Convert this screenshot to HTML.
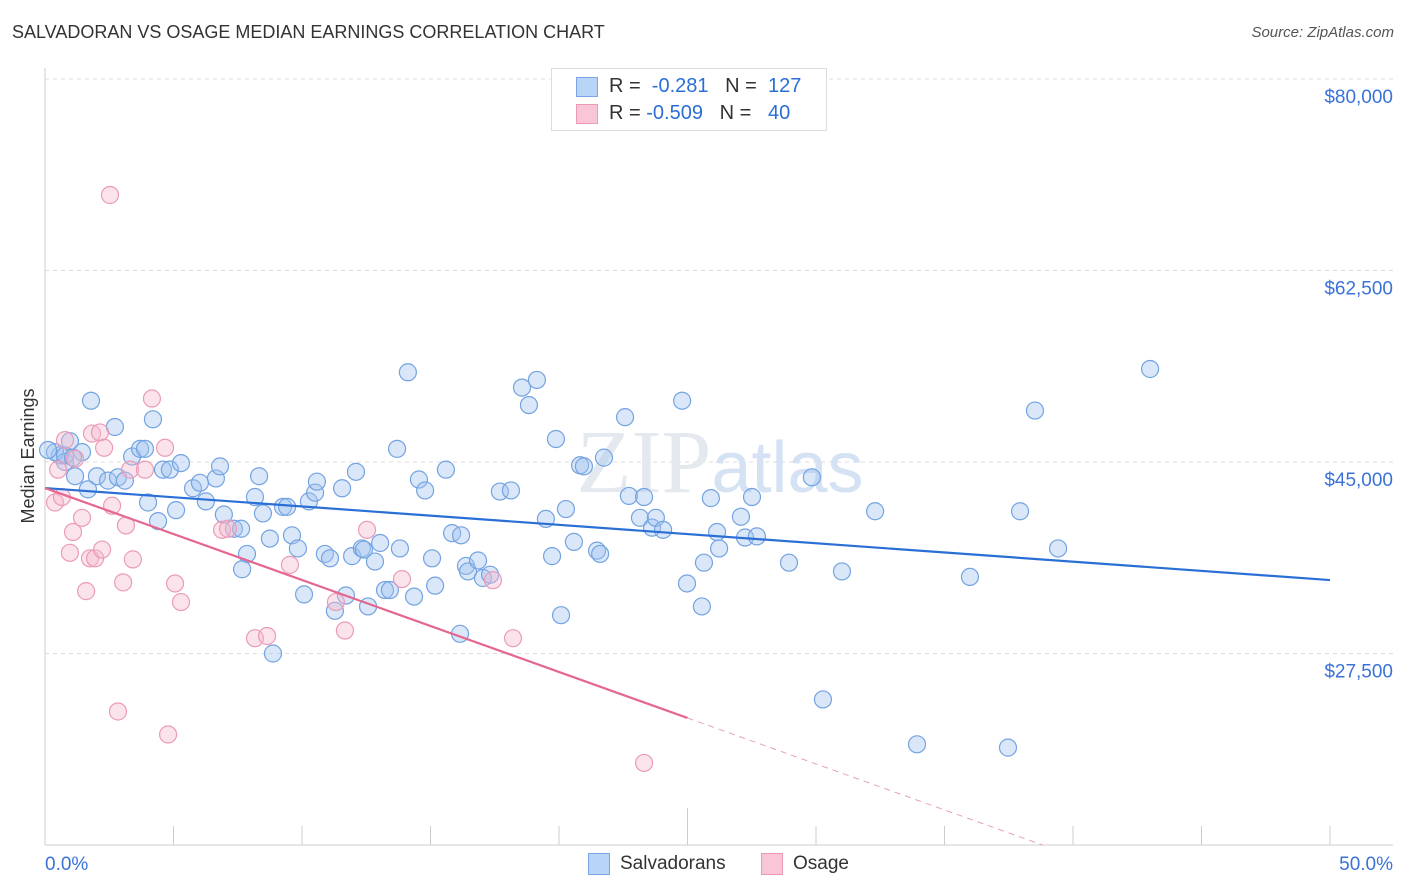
<!DOCTYPE html>
<html><head><meta charset="utf-8">
<style>
html,body{margin:0;background:#fff;font-family:"Liberation Sans",sans-serif;width:1406px;height:892px;overflow:hidden;}
#wrap{position:relative;width:1406px;height:892px;overflow:hidden;}
.t{position:absolute;white-space:nowrap;}
</style></head><body>
<div id="wrap">
<div class="t" style="left:12px;top:22px;font-size:18px;color:#333;">SALVADORAN VS OSAGE MEDIAN EARNINGS CORRELATION CHART</div>
<div class="t" style="right:12px;top:24px;font-size:15px;color:#555;font-style:italic;">Source: ZipAtlas.com</div>
<svg id="svg" width="1406" height="892" style="position:absolute;left:0;top:0;overflow:hidden"></svg>
<div class="t" style="left:551px;top:68px;width:274px;height:61px;border:1px solid #ddd;background:#fff;">
 <div class="t" style="left:24px;top:8px;width:20px;height:18px;background:#b8d4f6;border:1px solid #7aa6e4;"></div>
 <div class="t" style="left:57px;top:6px;font-size:20px;color:#333;">R = &nbsp;<span style="color:#2a6fd6">-0.281</span> &nbsp;&nbsp;N = &nbsp;<span style="color:#2a6fd6">127</span></div>
 <div class="t" style="left:24px;top:35px;width:20px;height:18px;background:#f8c6d6;border:1px solid #eb9bb8;"></div>
 <div class="t" style="left:57px;top:33px;font-size:20px;color:#333;">R = <span style="color:#2a6fd6">-0.509</span> &nbsp;&nbsp;N = &nbsp;&nbsp;<span style="color:#2a6fd6">40</span></div>
</div>
<div class="t" style="left:588px;top:853px;width:20px;height:20px;background:#b8d4f6;border:1px solid #7aa6e4;"></div>
<div class="t" style="left:620px;top:853px;font-size:19px;color:#333;">Salvadorans</div>
<div class="t" style="left:761px;top:853px;width:20px;height:20px;background:#f8c6d6;border:1px solid #eb9bb8;"></div>
<div class="t" style="left:793px;top:853px;font-size:19px;color:#333;">Osage</div>
</div>
<script>
const yTicks=[80000,62500,45000,27500];
const yTickLabels=["$80,000","$62,500","$45,000","$27,500"];
const xTickLabels=["0.0%","50.0%"];
const blueX=[1.79,2.72,4.20,0.97,0.58,0.39,1.44,0.78,1.17,1.67,2.02,2.45,2.84,3.11,3.39,3.70,3.89,4.59,4.86,5.29,5.76,6.03,6.26,6.65,6.81,4.01,4.40,5.10,6.96,7.35,7.63,7.86,7.67,8.17,8.33,8.48,8.75,8.87,9.26,9.42,9.61,9.84,10.08,10.27,10.51,10.58,10.89,11.09,11.28,11.56,11.71,11.95,12.10,12.33,12.41,12.57,12.84,13.04,13.23,13.42,13.70,13.81,14.12,14.36,14.55,14.79,15.06,15.18,15.60,15.84,16.19,16.38,16.46,16.85,17.04,17.32,16.15,17.70,18.13,18.56,18.83,19.14,19.49,19.73,19.88,20.08,20.27,20.58,20.82,20.97,21.48,21.60,21.75,22.57,22.72,23.15,23.31,23.62,23.77,24.05,24.79,24.98,25.56,25.64,25.91,26.15,26.23,27.08,27.24,27.51,27.70,28.95,29.84,30.27,31.01,32.30,33.93,35.99,37.47,37.94,38.52,39.42,43.00,0.78,0.12,1.09];
const blueY=[50.6,48.2,48.9,46.9,45.6,45.9,45.9,45.0,43.7,42.5,43.7,43.3,43.6,43.3,45.5,46.2,46.2,44.3,44.3,44.9,42.6,43.1,41.4,43.5,44.6,41.3,39.6,40.6,40.2,38.9,38.9,36.6,35.2,41.8,43.7,40.3,38.0,27.5,40.9,40.9,38.3,37.1,32.9,41.4,42.2,43.2,36.6,36.2,31.4,42.6,32.8,36.4,44.1,37.1,37.0,31.8,35.9,37.6,33.3,33.3,46.2,37.1,53.2,32.7,43.4,42.4,36.2,33.7,44.3,38.5,38.3,35.5,35.0,36.0,34.4,34.7,29.3,42.3,42.4,51.8,50.2,52.5,39.8,36.4,47.1,31.0,40.7,37.7,44.7,44.6,36.9,36.6,45.4,49.1,41.9,39.9,41.8,39.0,39.9,38.8,50.6,33.9,31.8,35.8,41.7,38.6,37.1,40.0,38.1,41.8,38.2,35.8,43.6,23.3,35.0,40.5,19.2,34.5,18.9,40.5,49.7,37.1,53.5,45.6,46.1,45.4];
const pinkX=[2.53,4.16,0.78,1.83,2.14,1.17,0.51,0.39,0.66,1.09,0.97,1.44,1.75,1.95,2.22,2.30,2.61,3.15,3.42,3.04,1.60,3.31,3.89,4.67,5.06,5.29,2.84,4.79,6.89,7.12,8.17,8.64,9.53,11.32,11.67,12.53,13.89,17.43,18.21,23.31];
const pinkY=[69.4,50.8,47.0,47.6,47.7,45.3,44.3,41.3,41.8,38.6,36.7,39.9,36.2,36.2,37.0,46.3,41.0,39.2,36.1,34.0,33.2,44.3,44.3,46.3,33.9,32.2,22.2,20.1,38.8,38.9,28.9,29.1,35.6,32.2,29.6,38.8,34.3,34.2,28.9,17.5];
const blueTrend=[42620,34210];
const pinkTrend=[42620,600];
const pinkSolidEnd=25;

const X0=45,X1=1330,Y0=845,Y1=79,YMIN=10000;
const xs=v=>X0+(v/50)*(X1-X0);
const ys=v=>Y0-(v-YMIN)/70000*(Y0-Y1);
const svg=document.getElementById('svg');
const NS='http://www.w3.org/2000/svg';
function mk(tag,at){const e=document.createElementNS(NS,tag);for(const k in at)e.setAttribute(k,at[k]);svg.appendChild(e);return e;}

yTicks.forEach((v,i)=>{
  const g=mk('line',{x1:X0,x2:1393,y1:ys(v),y2:ys(v),stroke:'#ddd','stroke-dasharray':'4,4'});
  
  
  const t=mk('text',{x:1393,y:ys(v)+24,'text-anchor':'end','font-size':19,fill:'#3a72d8','font-family':'Liberation Sans, sans-serif'});
  t.textContent=yTickLabels[i];
  
  
});
let a=mk('line',{x1:X0,x2:X0,y1:68,y2:Y0,stroke:'#ccc'});


a=mk('line',{x1:X0,x2:1393,y1:Y0,y2:Y0,stroke:'#ccc'});


for(let i=1;i<=10;i++){
  const x=X0+i*(X1-X0)/10;
  const tk=mk('line',{x1:x,x2:x,y1:i==5?808:826,y2:Y0,stroke:'#ccc'});
  
  
}
const xl=[[45,'start'],[1393,'end']];
xTickLabels.forEach((s,i)=>{
  const t=mk('text',{x:xl[i][0],y:870,'text-anchor':xl[i][1],'font-size':19,fill:'#3a72d8','font-family':'Liberation Sans, sans-serif'});
  t.textContent=s;
  
  
});
let yt=mk('text',{x:34,y:456,'text-anchor':'middle','font-size':18,fill:'#333',transform:'rotate(-90 34 456)','font-family':'Liberation Sans, sans-serif'});
yt.textContent='Median Earnings';


let wm=mk('text',{x:720,y:492,'text-anchor':'middle','font-size':90,fill:'#e4e9f0','font-family':'Liberation Serif, serif'});
wm.innerHTML='ZIP<tspan font-family="Liberation Sans, sans-serif" font-size="72" fill="#d4e2f4">atlas</tspan>';



blueX.forEach((x,i)=>{
  const c=mk('circle',{cx:xs(x),cy:ys(blueY[i]*1000),r:8.5,fill:'rgba(160,196,240,0.4)',stroke:'#74a3e2','stroke-width':1.2});
  
  
});
pinkX.forEach((x,i)=>{
  const c=mk('circle',{cx:xs(x),cy:ys(pinkY[i]*1000),r:8.5,fill:'rgba(246,184,204,0.4)',stroke:'#eb9bb8','stroke-width':1.2});
  
  
});
let l=mk('line',{x1:xs(0),y1:ys(blueTrend[0]),x2:xs(50),y2:ys(blueTrend[1]),stroke:'#2a6fd6','stroke-width':2.2});


const pinkAt=x=>pinkTrend[0]+(pinkTrend[1]-pinkTrend[0])*x/50;
const pm=pinkAt(pinkSolidEnd);
let xEnd=50;
if(pinkTrend[1]<YMIN){xEnd=50*(pinkTrend[0]-YMIN)/(pinkTrend[0]-pinkTrend[1]);}
l=mk('line',{x1:xs(0),y1:ys(pinkTrend[0]),x2:xs(pinkSolidEnd),y2:ys(pm),stroke:'#e5668f','stroke-width':2.2});


l=mk('line',{x1:xs(pinkSolidEnd),y1:ys(pm),x2:xs(xEnd),y2:ys(pinkAt(xEnd)),stroke:'#e5a0b8','stroke-width':1,'stroke-dasharray':'6,5'});


</script>
</body></html>
